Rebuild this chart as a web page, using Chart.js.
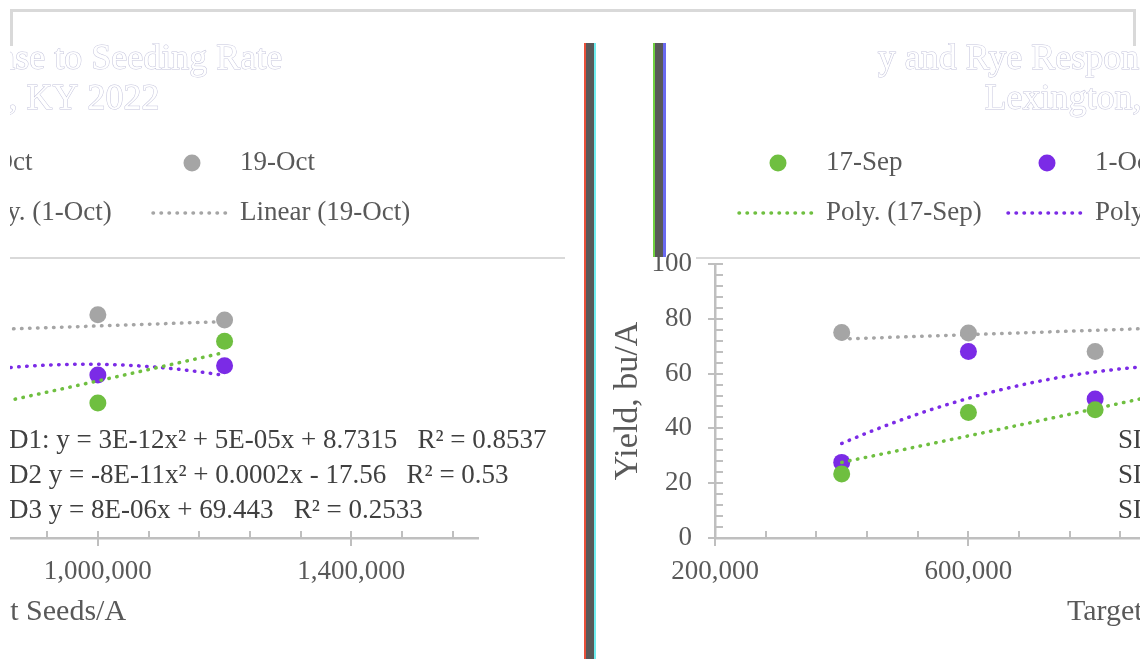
<!DOCTYPE html>
<html>
<head>
<meta charset="utf-8">
<title>Rye yield response to seeding rate</title>
<script src="https://cdn.jsdelivr.net/npm/chart.js@4.4.1/dist/chart.umd.min.js"></script>
<style>
  html, body { margin: 0; padding: 0; background: #fff; }
  body { position: relative; width: 1140px; height: 659px; overflow: hidden; }
  .view { position: absolute; top: 0; height: 659px; overflow: hidden; }
  .view canvas { position: absolute; top: 0; }
  #leftView { left: 10px; width: 576px; }
  #leftView canvas { left: -544px; }
  #rightView { left: 590px; width: 550px; }
  #rightView canvas { left: 0; }
  #frame { position: absolute; left: 10px; top: 9px; width: 1120px; height: 34px;
           border: 3px solid #d9d9d9; border-bottom: none; }
  .seam { position: absolute; top: 43px; background: #595959; }
  #seamA { left: 584px; width: 8px; height: 616px; border-left: 2px solid #e8503a; border-right: 2px solid #70eef0; }
  #seamB { left: 653px; width: 8px; height: 214px; border-left: 2px solid #6fcf40; border-right: 3px solid #6a6af0; }
</style>
</head>
<body>
<div class="view" id="leftView"><canvas id="chartLeft" width="1124" height="659"></canvas></div>
<div class="view" id="rightView"><canvas id="chartRight" width="1124" height="659"></canvas></div>
<div id="frame"></div>
<div class="seam" id="seamA"></div>
<div class="seam" id="seamB"></div>
<script>
// data
const seedRates = [400000, 600000, 800000, 1000000, 1200000];
const yieldSep17 = [23.4, 45.8, 46.8, 49.3, 71.8];
const yieldOct1 = [27.6, 68.1, 50.7, 59.5, 62.9];
const yieldOct19 = [75.0, 74.8, 68.1, 81.5, 79.6];
const plantDates = ["17-Sep", "1-Oct", "19-Oct"];
const trendNames = ["Poly. (17-Sep)", "Poly. (1-Oct)", "Linear (19-Oct)"];
const trendOrders = [2, 2, 1];
const xTickValues = [200000, 600000, 1000000, 1400000];
const yTickValues = [0, 20, 40, 60, 80, 100];
const equations = [
  "SD1: y = 3E-12x² + 5E-05x + 8.7315   R² = 0.8537",
  "SD2 y = -8E-11x² + 0.0002x - 17.56   R² = 0.53",
  "SD3 y = 8E-06x + 69.443   R² = 0.2533"
];
const titleLines = ["y and Rye Response to Seeding Rate", "Lexington, KY 2022"];

const xMin = 200000, xMax = 1600000, xMajor = 400000, xMinor = 80000;
const yMin = 0, yMax = 100, yMajor = 20, yMinor = 4;

const axisGrey = '#bfbfbf';
const labelGrey = '#595959';
const serif = "'Liberation Serif', 'Times New Roman', serif";
const colors = ['#6fbf40', '#7b2be6', '#a5a5a5'];

// least squares polynomial, like an Excel trendline (x in 100k units)
function polyFit(xs, ys, order) {
  const n = order + 1;
  const A = [], b = [];
  for (let i = 0; i < n; i++) { A.push(new Array(n).fill(0)); b.push(0); }
  xs.forEach((x, k) => {
    const u = x / 1e5;
    for (let i = 0; i < n; i++) {
      for (let j = 0; j < n; j++) A[i][j] += Math.pow(u, i + j);
      b[i] += Math.pow(u, i) * ys[k];
    }
  });
  for (let i = 0; i < n; i++) {
    for (let r = i + 1; r < n; r++) {
      const f = A[r][i] / A[i][i];
      for (let c = i; c < n; c++) A[r][c] -= f * A[i][c];
      b[r] -= f * b[i];
    }
  }
  const coef = new Array(n).fill(0);
  for (let i = n - 1; i >= 0; i--) {
    let s = b[i];
    for (let j = i + 1; j < n; j++) s -= A[i][j] * coef[j];
    coef[i] = s / A[i][i];
  }
  return x => coef.reduce((acc, c, i) => acc + c * Math.pow(x / 1e5, i), 0);
}

function makeDatasets() {
  const series = [yieldSep17, yieldOct1, yieldOct19];
  const points = series.map((ys, i) => ({
    label: plantDates[i],
    data: seedRates.map((x, k) => ({ x: x, y: ys[k] })),
    backgroundColor: colors[i],
    borderWidth: 0,
    pointRadius: 8.5,
    order: 2
  }));
  const trends = series.map((ys, i) => {
    const f = polyFit(seedRates, ys, trendOrders[i]);
    const data = [];
    for (let x = seedRates[0]; x <= seedRates[seedRates.length - 1]; x += 10000) data.push({ x: x, y: f(x) });
    return {
      label: trendNames[i], data: data, showLine: true, pointRadius: 0,
      borderColor: colors[i], borderWidth: 3.5, borderDash: [0.5, 7.5], borderCapStyle: 'round',
      order: 1
    };
  });
  return points.concat(trends);
}

// excel style ticks, legend, title, equations
const decor = {
  id: 'decor',
  afterDraw(chart) {
    const { ctx, scales: { x, y } } = chart;
    ctx.save();

    // tick marks
    ctx.strokeStyle = axisGrey;
    ctx.lineWidth = 2;
    const axisX = x.getPixelForValue(xMin);
    const axisY = y.getPixelForValue(yMin);
    ctx.beginPath();
    for (let v = yMin; v <= yMax; v += yMinor) {
      const py = Math.round(y.getPixelForValue(v));
      ctx.moveTo(axisX - (v % yMajor === 0 ? 7 : 0), py);
      ctx.lineTo(axisX + 8, py);
    }
    for (let v = xMin; v <= xMax; v += xMinor) {
      const px = Math.round(x.getPixelForValue(v));
      ctx.moveTo(px, axisY + ((v - xMin) % xMajor === 0 ? 8 : 0));
      ctx.lineTo(px, axisY - 7);
    }
    ctx.stroke();

    // line between legend and plot
    ctx.strokeStyle = '#d9d9d9';
    ctx.beginPath();
    ctx.moveTo(106, 258);
    ctx.lineTo(chart.width - 25, 258);
    ctx.stroke();

    // title (washed out)
    ctx.font = '36px ' + serif;
    ctx.textAlign = 'center';
    ctx.textBaseline = 'middle';
    ctx.lineWidth = 1;
    ctx.strokeStyle = '#c4c4dc';
    ctx.fillStyle = '#ffffff';
    titleLines.forEach((t, i) => {
      const cx = chart.width / 2 - 10 - i * 8;
      ctx.strokeText(t, cx, 60 + i * 40);
      ctx.fillText(t, cx, 60 + i * 40);
    });

    // legend, 3 columns x 2 rows
    ctx.font = '27px ' + serif;
    ctx.textAlign = 'left';
    chart.data.datasets.forEach((ds, i) => {
      const col = i % 3, row = Math.floor(i / 3);
      const sx = 147 + col * 269;
      const cy = 163 + row * 50;
      if (ds.showLine) {
        ctx.save();
        ctx.strokeStyle = ds.borderColor;
        ctx.lineWidth = ds.borderWidth;
        ctx.lineCap = 'round';
        ctx.setLineDash(ds.borderDash);
        ctx.beginPath();
        ctx.moveTo(sx + 2, cy);
        ctx.lineTo(sx + 75, cy);
        ctx.stroke();
        ctx.restore();
      } else {
        ctx.fillStyle = ds.backgroundColor;
        ctx.beginPath();
        ctx.arc(sx + 41, cy, 8.5, 0, Math.PI * 2);
        ctx.fill();
      }
      ctx.fillStyle = labelGrey;
      ctx.fillText(ds.label, sx + 89, cy);
    });

    // trendline equations
    ctx.font = '27px ' + serif;
    ctx.fillStyle = '#404040';
    equations.forEach((t, i) => ctx.fillText(t, 528, 441 + i * 35));

    ctx.restore();
  }
};

function buildChart(canvasId) {
  return new Chart(document.getElementById(canvasId), {
    type: 'scatter',
    data: { datasets: makeDatasets() },
    options: {
      responsive: false,
      animation: false,
      layout: { padding: { left: 0, right: 112, top: 264, bottom: 0 } },
      plugins: {
        legend: { display: false },
        title: { display: false },
        tooltip: { enabled: false }
      },
      scales: {
        x: {
          type: 'linear',
          min: xMin,
          max: xMax,
          afterFit: s => { s.height = 121; },
          afterBuildTicks: s => { s.ticks = xTickValues.map(v => ({ value: v })); },
          border: { color: axisGrey, width: 2.5 },
          grid: { display: false, drawTicks: false },
          ticks: {
            maxRotation: 0,
            autoSkip: false,
            padding: 18,
            color: labelGrey,
            font: { family: serif, size: 27 },
            callback: v => v.toLocaleString('en-US')
          },
          title: {
            display: true,
            text: 'Target Seeds/A',
            color: labelGrey,
            font: { family: serif, size: 30 },
            padding: { top: 0, bottom: 29 }
          }
        },
        y: {
          min: yMin,
          max: yMax,
          afterFit: s => { s.width = 125; },
          afterBuildTicks: s => { s.ticks = yTickValues.map(v => ({ value: v })); },
          border: { color: axisGrey, width: 2.5 },
          grid: { display: false, drawTicks: false },
          ticks: {
            padding: 23,
            color: labelGrey,
            font: { family: serif, size: 27 }
          },
          title: {
            display: true,
            text: 'Yield, bu/A',
            color: labelGrey,
            font: { family: serif, size: 34 },
            padding: { top: 18, bottom: 0 }
          }
        }
      }
    },
    plugins: [decor]
  });
}

buildChart('chartLeft');
buildChart('chartRight');
</script>
</body>
</html>
